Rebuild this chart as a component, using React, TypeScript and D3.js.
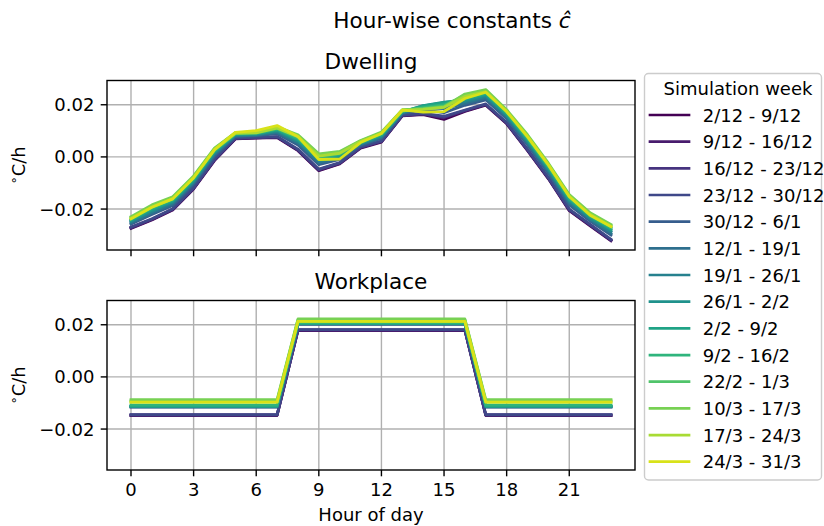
import React from "react";
import * as d3 from "d3";

const hours = [0, 1, 2, 3, 4, 5, 6, 7, 8, 9, 10, 11, 12, 13, 14, 15, 16, 17, 18, 19, 20, 21, 22, 23];

const weeks = [
  "2/12 - 9/12", "9/12 - 16/12", "16/12 - 23/12", "23/12 - 30/12", "30/12 - 6/1",
  "12/1 - 19/1", "19/1 - 26/1", "26/1 - 2/2", "2/2 - 9/2", "9/2 - 16/2",
  "22/2 - 1/3", "10/3 - 17/3", "17/3 - 24/3", "24/3 - 31/3",
];

const dwelling = [
  [-0.0274, -0.0242, -0.0204, -0.0123, -0.0014, 0.0069, 0.0072, 0.0074, 0.0024, -0.0053, -0.0027, 0.0034, 0.0057, 0.0157, 0.0162, 0.0144, 0.0174, 0.0198, 0.0127, 0.0024, -0.0084, -0.0206, -0.0264, -0.0322],
  [-0.0272, -0.0240, -0.0202, -0.0121, -0.0012, 0.0070, 0.0073, 0.0076, 0.0026, -0.0051, -0.0025, 0.0036, 0.0059, 0.0158, 0.0164, 0.0150, 0.0176, 0.0200, 0.0129, 0.0026, -0.0082, -0.0204, -0.0262, -0.0320],
  [-0.0271, -0.0239, -0.0201, -0.0120, -0.0011, 0.0071, 0.0074, 0.0077, 0.0027, -0.0049, -0.0024, 0.0036, 0.0059, 0.0159, 0.0165, 0.0152, 0.0178, 0.0201, 0.0130, 0.0027, -0.0081, -0.0203, -0.0261, -0.0319],
  [-0.0269, -0.0237, -0.0199, -0.0118, -0.0009, 0.0072, 0.0075, 0.0078, 0.0030, -0.0047, -0.0022, 0.0038, 0.0061, 0.0160, 0.0167, 0.0156, 0.0180, 0.0203, 0.0132, 0.0030, -0.0079, -0.0200, -0.0259, -0.0316],
  [-0.0258, -0.0221, -0.0186, -0.0105, 0.0003, 0.0078, 0.0081, 0.0089, 0.0046, -0.0030, -0.0010, 0.0044, 0.0071, 0.0166, 0.0180, 0.0170, 0.0198, 0.0219, 0.0146, 0.0046, -0.0063, -0.0184, -0.0246, -0.0300],
  [-0.0254, -0.0216, -0.0181, -0.0100, 0.0008, 0.0080, 0.0083, 0.0093, 0.0052, -0.0024, -0.0005, 0.0047, 0.0074, 0.0168, 0.0188, 0.0185, 0.0204, 0.0225, 0.0151, 0.0052, -0.0057, -0.0178, -0.0241, -0.0294],
  [-0.0249, -0.0210, -0.0176, -0.0096, 0.0012, 0.0083, 0.0085, 0.0097, 0.0057, -0.0017, -0.0001, 0.0050, 0.0078, 0.0170, 0.0192, 0.0200, 0.0211, 0.0231, 0.0157, 0.0057, -0.0051, -0.0172, -0.0237, -0.0287],
  [-0.0245, -0.0205, -0.0171, -0.0091, 0.0017, 0.0085, 0.0087, 0.0101, 0.0063, -0.0011, 0.0004, 0.0053, 0.0081, 0.0172, 0.0197, 0.0210, 0.0217, 0.0237, 0.0162, 0.0063, -0.0045, -0.0166, -0.0232, -0.0281],
  [-0.0242, -0.0201, -0.0168, -0.0087, 0.0020, 0.0087, 0.0089, 0.0104, 0.0067, -0.0007, 0.0007, 0.0054, 0.0084, 0.0174, 0.0196, 0.0208, 0.0222, 0.0241, 0.0165, 0.0067, -0.0041, -0.0162, -0.0228, -0.0277],
  [-0.0239, -0.0196, -0.0164, -0.0084, 0.0024, 0.0088, 0.0091, 0.0107, 0.0072, -0.0002, 0.0011, 0.0057, 0.0087, 0.0176, 0.0190, 0.0200, 0.0227, 0.0245, 0.0170, 0.0072, -0.0037, -0.0157, -0.0225, -0.0272],
  [-0.0232, -0.0188, -0.0156, -0.0076, 0.0031, 0.0092, 0.0094, 0.0113, 0.0081, 0.0008, 0.0018, 0.0061, 0.0092, 0.0179, 0.0186, 0.0195, 0.0237, 0.0254, 0.0177, 0.0081, -0.0028, -0.0148, -0.0217, -0.0263],
  [-0.0229, -0.0184, -0.0153, -0.0073, 0.0034, 0.0093, 0.0095, 0.0115, 0.0085, 0.0012, 0.0021, 0.0063, 0.0095, 0.0181, 0.0184, 0.0192, 0.0241, 0.0258, 0.0181, 0.0085, -0.0024, -0.0144, -0.0214, -0.0259],
  [-0.0235, -0.0192, -0.0160, -0.0080, 0.0027, 0.0090, 0.0092, 0.0110, 0.0077, 0.0003, 0.0014, 0.0059, 0.0090, 0.0177, 0.0182, 0.0190, 0.0232, 0.0250, 0.0174, 0.0077, -0.0032, -0.0152, -0.0221, -0.0267],
  [-0.0238, -0.0193, -0.0161, -0.0080, 0.0028, 0.0094, 0.0101, 0.0120, 0.0078, -0.0010, -0.0008, 0.0055, 0.0090, 0.0180, 0.0172, 0.0174, 0.0224, 0.0248, 0.0174, 0.0078, -0.0030, -0.0152, -0.0224, -0.0267],
];

const workplace = [
  [-0.0148, -0.0148, -0.0148, -0.0148, -0.0148, -0.0148, -0.0148, -0.0148, 0.0178, 0.0178, 0.0178, 0.0178, 0.0178, 0.0178, 0.0178, 0.0178, 0.0178, -0.0148, -0.0148, -0.0148, -0.0148, -0.0148, -0.0148, -0.0148],
  [-0.0147, -0.0147, -0.0147, -0.0147, -0.0147, -0.0147, -0.0147, -0.0147, 0.0179, 0.0179, 0.0179, 0.0179, 0.0179, 0.0179, 0.0179, 0.0179, 0.0179, -0.0147, -0.0147, -0.0147, -0.0147, -0.0147, -0.0147, -0.0147],
  [-0.0146, -0.0146, -0.0146, -0.0146, -0.0146, -0.0146, -0.0146, -0.0146, 0.0180, 0.0180, 0.0180, 0.0180, 0.0180, 0.0180, 0.0180, 0.0180, 0.0180, -0.0146, -0.0146, -0.0146, -0.0146, -0.0146, -0.0146, -0.0146],
  [-0.0145, -0.0145, -0.0145, -0.0145, -0.0145, -0.0145, -0.0145, -0.0145, 0.0181, 0.0181, 0.0181, 0.0181, 0.0181, 0.0181, 0.0181, 0.0181, 0.0181, -0.0145, -0.0145, -0.0145, -0.0145, -0.0145, -0.0145, -0.0145],
  [-0.0116, -0.0116, -0.0116, -0.0116, -0.0116, -0.0116, -0.0116, -0.0116, 0.0202, 0.0202, 0.0202, 0.0202, 0.0202, 0.0202, 0.0202, 0.0202, 0.0202, -0.0116, -0.0116, -0.0116, -0.0116, -0.0116, -0.0116, -0.0116],
  [-0.0115, -0.0115, -0.0115, -0.0115, -0.0115, -0.0115, -0.0115, -0.0115, 0.0203, 0.0203, 0.0203, 0.0203, 0.0203, 0.0203, 0.0203, 0.0203, 0.0203, -0.0115, -0.0115, -0.0115, -0.0115, -0.0115, -0.0115, -0.0115],
  [-0.0114, -0.0114, -0.0114, -0.0114, -0.0114, -0.0114, -0.0114, -0.0114, 0.0204, 0.0204, 0.0204, 0.0204, 0.0204, 0.0204, 0.0204, 0.0204, 0.0204, -0.0114, -0.0114, -0.0114, -0.0114, -0.0114, -0.0114, -0.0114],
  [-0.0113, -0.0113, -0.0113, -0.0113, -0.0113, -0.0113, -0.0113, -0.0113, 0.0204, 0.0204, 0.0204, 0.0204, 0.0204, 0.0204, 0.0204, 0.0204, 0.0204, -0.0113, -0.0113, -0.0113, -0.0113, -0.0113, -0.0113, -0.0113],
  [-0.0112, -0.0112, -0.0112, -0.0112, -0.0112, -0.0112, -0.0112, -0.0112, 0.0205, 0.0205, 0.0205, 0.0205, 0.0205, 0.0205, 0.0205, 0.0205, 0.0205, -0.0112, -0.0112, -0.0112, -0.0112, -0.0112, -0.0112, -0.0112],
  [-0.0108, -0.0108, -0.0108, -0.0108, -0.0108, -0.0108, -0.0108, -0.0108, 0.0207, 0.0207, 0.0207, 0.0207, 0.0207, 0.0207, 0.0207, 0.0207, 0.0207, -0.0108, -0.0108, -0.0108, -0.0108, -0.0108, -0.0108, -0.0108],
  [-0.0092, -0.0092, -0.0092, -0.0092, -0.0092, -0.0092, -0.0092, -0.0092, 0.0219, 0.0219, 0.0219, 0.0219, 0.0219, 0.0219, 0.0219, 0.0219, 0.0219, -0.0092, -0.0092, -0.0092, -0.0092, -0.0092, -0.0092, -0.0092],
  [-0.0087, -0.0087, -0.0087, -0.0087, -0.0087, -0.0087, -0.0087, -0.0087, 0.0222, 0.0222, 0.0222, 0.0222, 0.0222, 0.0222, 0.0222, 0.0222, 0.0222, -0.0087, -0.0087, -0.0087, -0.0087, -0.0087, -0.0087, -0.0087],
  [-0.0097, -0.0097, -0.0097, -0.0097, -0.0097, -0.0097, -0.0097, -0.0097, 0.0213, 0.0213, 0.0213, 0.0213, 0.0213, 0.0213, 0.0213, 0.0213, 0.0213, -0.0097, -0.0097, -0.0097, -0.0097, -0.0097, -0.0097, -0.0097],
  [-0.0097, -0.0097, -0.0097, -0.0097, -0.0097, -0.0097, -0.0097, -0.0097, 0.0213, 0.0213, 0.0213, 0.0213, 0.0213, 0.0213, 0.0213, 0.0213, 0.0213, -0.0097, -0.0097, -0.0097, -0.0097, -0.0097, -0.0097, -0.0097],
];

const xTicks = [0, 3, 6, 9, 12, 15, 18, 21];
const yTicks = [-0.02, 0, 0.02];
const yTickLabels = ["\u22120.02", "0.00", "0.02"];

const FONT = "DejaVu Sans, sans-serif";
const W = 824;
const H = 526;
const LEFT = 107;
const RIGHT = 635;
const panels = [
  { title: "Dwelling", top: 80.5, bottom: 250, data: dwelling, labels: false },
  { title: "Workplace", top: 300.5, bottom: 470, data: workplace, labels: true },
];

const x = d3.scaleLinear().domain([-1.15, 24.15]).range([LEFT, RIGHT]);
const color = (i: number) => d3.interpolateViridis((i / 13) * 0.94);

function Panel({ p }: { p: typeof panels[number] }) {
  const y = d3.scaleLinear().domain([-0.0357, 0.0293]).range([p.bottom, p.top]);
  const line = d3
    .line<number>()
    .x((_, i) => x(hours[i]))
    .y((d) => y(d));
  const cy = (p.top + p.bottom) / 2;
  return (
    <g>
      {xTicks.map((t) => (
        <line key={"gx" + t} x1={x(t)} x2={x(t)} y1={p.top} y2={p.bottom} stroke="#b0b0b0" strokeWidth={1.4} />
      ))}
      {yTicks.map((t) => (
        <line key={"gy" + t} x1={LEFT} x2={RIGHT} y1={y(t)} y2={y(t)} stroke="#b0b0b0" strokeWidth={1.4} />
      ))}
      {p.data.map((row, i) => (
        <path key={i} d={line(row) || ""} fill="none" stroke={color(i)} strokeWidth={2.8} strokeLinejoin="round" strokeLinecap="square" />
      ))}
      <rect x={LEFT} y={p.top} width={RIGHT - LEFT} height={p.bottom - p.top} fill="none" stroke="#000" strokeWidth={1.4} />
      {xTicks.map((t) => (
        <g key={"tx" + t}>
          <line x1={x(t)} x2={x(t)} y1={p.bottom} y2={p.bottom + 6.3} stroke="#000" strokeWidth={1.4} />
          {p.labels && (
            <text x={x(t)} y={p.bottom + 26} textAnchor="middle" fontSize={18} fontFamily={FONT} fill="#000">
              {t}
            </text>
          )}
        </g>
      ))}
      {yTicks.map((t, i) => (
        <g key={"ty" + t}>
          <line x1={LEFT - 6.3} x2={LEFT} y1={y(t)} y2={y(t)} stroke="#000" strokeWidth={1.4} />
          <text x={LEFT - 12.6} y={y(t) + 6.5} textAnchor="end" fontSize={18} fontFamily={FONT} fill="#000">
            {yTickLabels[i]}
          </text>
        </g>
      ))}
      <text x={(LEFT + RIGHT) / 2} y={p.top - 12} textAnchor="middle" fontSize={21.6} fontFamily={FONT} fill="#000">
        {p.title}
      </text>
      <g transform={`translate(25,${cy}) rotate(-90)`}>
        <text x={0} y={0} textAnchor="middle" fontSize={18} fontFamily={FONT} fill="#000">
          <tspan fontSize={12.6} dy={-7}>{"\u2218"}</tspan>
          <tspan dy={7}>C/h</tspan>
        </text>
      </g>
    </g>
  );
}

export default function App() {
  const legendRows = weeks.map((w, i) => ({ w, i, yy: 115 + i * 26.67 }));
  return (
    <svg width={W} height={H} style={{ position: "absolute", left: 0, top: 0, background: "#fff" }}>
      <rect x={0} y={0} width={W} height={H} fill="#fff" />
      <text x={452} y={28} textAnchor="middle" fontSize={21.6} fontFamily={FONT} fill="#000">
        Hour-wise constants <tspan fontStyle="italic">{"\u0109"}</tspan>
      </text>
      {panels.map((p) => (
        <Panel key={p.title} p={p} />
      ))}
      <text x={(LEFT + RIGHT) / 2} y={521} textAnchor="middle" fontSize={18} fontFamily={FONT} fill="#000">
        Hour of day
      </text>
      <rect x={644.5} y={73.5} width={177} height={406.5} rx={4} fill="#fff" fillOpacity={0.8} stroke="#cccccc" strokeWidth={1.4} />
      <text x={738} y={94.5} textAnchor="middle" fontSize={18} fontFamily={FONT} fill="#000">
        Simulation week
      </text>
      {legendRows.map((r) => (
        <g key={r.w}>
          <line x1={650} x2={689} y1={r.yy} y2={r.yy} stroke={color(r.i)} strokeWidth={2.7} strokeLinecap="square" />
          <text x={702.7} y={r.yy + 6.5} fontSize={18} fontFamily={FONT} fill="#000">
            {r.w}
          </text>
        </g>
      ))}
    </svg>
  );
}
